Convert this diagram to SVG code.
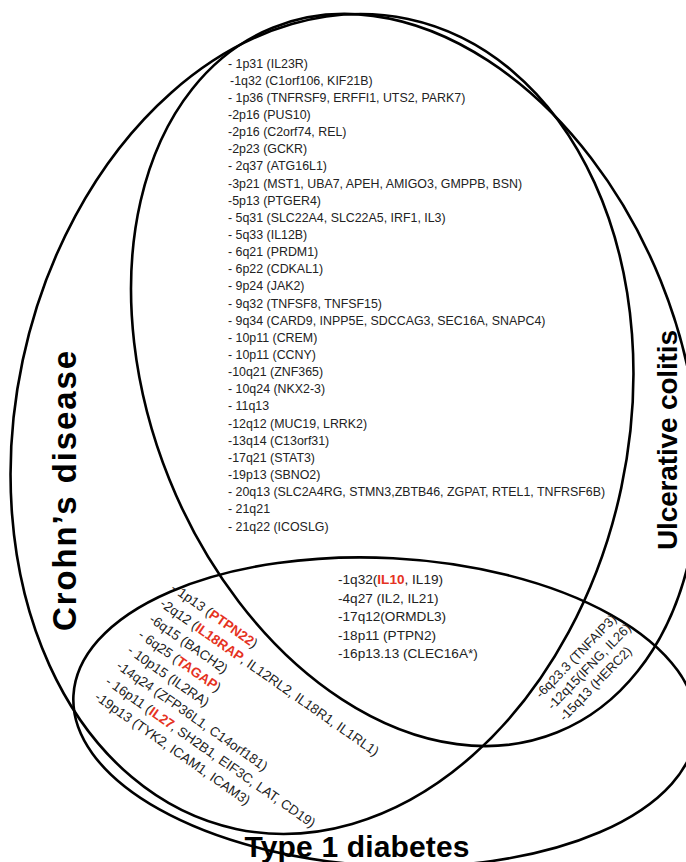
<svg xmlns="http://www.w3.org/2000/svg" width="686" height="862" viewBox="0 0 686 862">
<style>
.set{fill:none;stroke:#000;stroke-width:2.6}
.lbl{font-family:"Liberation Sans",Arial,sans-serif;font-weight:bold;fill:#000}
.lst{font-family:"Liberation Sans",Arial,sans-serif;fill:#222}
.red{fill:#e53222;font-weight:bold}
</style>
<rect width="686" height="862" fill="#fff"/>
<g id="crohns">
<ellipse class="set" cx="322" cy="424" rx="306" ry="414" transform="rotate(12 322 424)"/>
<text class="lbl" font-size="33" text-anchor="middle" textLength="280" transform="translate(76,491) rotate(-90)">Crohn’s disease</text>
</g>
<g id="ulcerative-colitis">
<ellipse class="set" cx="415" cy="380" rx="265" ry="380" transform="rotate(-22 415 380)"/>
<text class="lbl" font-size="28" text-anchor="middle" textLength="220" transform="translate(677,440) rotate(-90)">Ulcerative colitis</text>
</g>
<g id="type1-diabetes">
<ellipse class="set" cx="385" cy="712" rx="312" ry="154" transform="rotate(3 385 712)"/>
<text class="lbl" font-size="30" text-anchor="middle" textLength="225" x="357" y="857">Type 1 diabetes</text>
</g>
<g id="cd-uc-loci">
<text class="lst" font-size="12.4" x="228" y="67.5"><tspan x="228">- 1p31 (IL23R)</tspan><tspan x="230" dy="17.15">-1q32 (C1orf106, KIF21B)</tspan><tspan x="228" dy="17.15">- 1p36 (TNFRSF9, ERFFI1, UTS2, PARK7)</tspan><tspan x="228" dy="17.15">-2p16 (PUS10)</tspan><tspan x="228" dy="17.15">-2p16 (C2orf74, REL)</tspan><tspan x="228" dy="17.15">-2p23 (GCKR)</tspan><tspan x="228" dy="17.15">- 2q37 (ATG16L1)</tspan><tspan x="228" dy="17.15">-3p21 (MST1, UBA7, APEH, AMIGO3, GMPPB, BSN)</tspan><tspan x="228" dy="17.15">-5p13 (PTGER4)</tspan><tspan x="228" dy="17.15">- 5q31 (SLC22A4, SLC22A5, IRF1, IL3)</tspan><tspan x="228" dy="17.15">- 5q33 (IL12B)</tspan><tspan x="228" dy="17.15">- 6q21 (PRDM1)</tspan><tspan x="228" dy="17.15">- 6p22 (CDKAL1)</tspan><tspan x="228" dy="17.15">- 9p24 (JAK2)</tspan><tspan x="228" dy="17.15">- 9q32 (TNFSF8, TNFSF15)</tspan><tspan x="228" dy="17.15">- 9q34 (CARD9, INPP5E, SDCCAG3, SEC16A, SNAPC4)</tspan><tspan x="228" dy="17.15">- 10p11 (CREM)</tspan><tspan x="228" dy="17.15">- 10p11 (CCNY)</tspan><tspan x="228" dy="17.15">-10q21 (ZNF365)</tspan><tspan x="228" dy="17.15">- 10q24 (NKX2-3)</tspan><tspan x="228" dy="17.15">- 11q13</tspan><tspan x="228" dy="17.15">-12q12 (MUC19, LRRK2)</tspan><tspan x="228" dy="17.15">-13q14 (C13orf31)</tspan><tspan x="228" dy="17.15">-17q21 (STAT3)</tspan><tspan x="228" dy="17.15">-19p13 (SBNO2)</tspan><tspan x="228" dy="17.15">- 20q13 (SLC2A4RG, STMN3,ZBTB46, ZGPAT, RTEL1, TNFRSF6B)</tspan><tspan x="228" dy="17.15">- 21q21</tspan><tspan x="228" dy="17.15">- 21q22 (ICOSLG)</tspan></text>
</g>
<g id="all-three-loci">
<text class="lst" font-size="13.6"><tspan x="338" y="584">-1q32(<tspan class="red">IL10</tspan>, IL19)</tspan><tspan x="338" y="602.5">-4q27 (IL2, IL21)</tspan><tspan x="338" y="621">-17q12(ORMDL3)</tspan><tspan x="338" y="639.5">-18p11 (PTPN2)</tspan><tspan x="338" y="658">-16p13.13 (CLEC16A*)</tspan></text>
</g>
<g id="cd-t1d-loci" transform="translate(170,590) rotate(35)">
<text class="lst" font-size="13.5"><tspan x="0" y="0">- 1p13 (<tspan class="red">PTPN22</tspan>)</tspan><tspan x="0" y="19">-2q12 (<tspan class="red">IL18RAP</tspan>, IL12RL2, IL18R1, IL1RL1)</tspan><tspan x="0" y="38">-6q15 (BACH2)</tspan><tspan x="0" y="57">- 6q25 (<tspan class="red">TAGAP</tspan>)</tspan><tspan x="0" y="76">- 10p15 (IL2RA)</tspan><tspan x="0" y="95">-14q24 (ZFP36L1, C14orf181)</tspan><tspan x="0" y="114">- 16p11 (<tspan class="red">IL27</tspan>, SH2B1, EIF3C, LAT, CD19)</tspan><tspan x="0" y="133">-19p13 (TYK2, ICAM1, ICAM3)</tspan></text>
</g>
<g id="uc-t1d-loci" transform="translate(541,699) rotate(-46)">
<text class="lst" font-size="13.1"><tspan x="0" y="0">-6q23.3 (TNFAIP3)</tspan><tspan x="0" y="16.5">-12q15(IFNG, IL26)</tspan><tspan x="0" y="33">-15q13 (HERC2)</tspan></text>
</g>
</svg>
